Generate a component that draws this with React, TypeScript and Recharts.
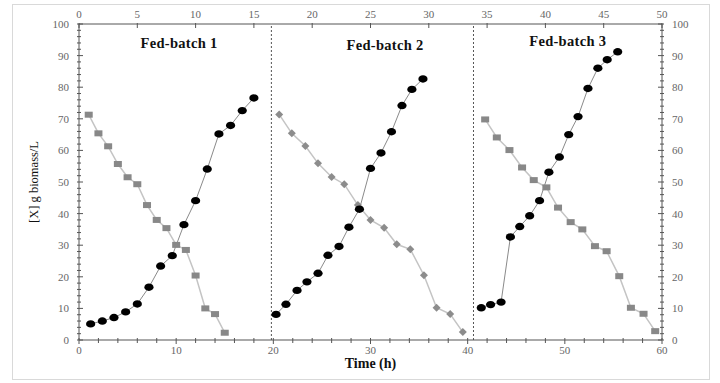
import React from 'react';
import {
  ScatterChart,
  Scatter,
  XAxis,
  YAxis,
  ReferenceLine,
  ReferenceDot,
} from 'recharts';

// Biomass (black circles) – plotted on the top time axis (0-50)
const biomassTime1 = [1, 2, 3, 4, 5, 6, 7, 8, 9, 10, 11, 12, 13, 14, 15];
const biomass1 = [5.1, 6.0, 7.1, 8.9, 11.4, 16.7, 23.4, 26.7, 36.5, 44.1, 54.1, 65.2, 67.9, 72.6, 76.6];
const biomassTime2 = [16.9, 17.75, 18.7, 19.55, 20.5, 21.35, 22.3, 23.15, 24.05, 25.0, 25.9, 26.8, 27.7, 28.55, 29.5];
const biomass2 = [8.1, 11.3, 15.7, 18.4, 21.1, 26.8, 29.6, 35.7, 41.4, 54.3, 59.2, 65.9, 74.2, 79.3, 82.6];
const biomassTime3 = [34.5, 35.3, 36.2, 37.0, 37.8, 38.65, 39.5, 40.3, 41.2, 42.0, 42.8, 43.65, 44.5, 45.3, 46.2];
const biomass3 = [10.2, 11.2, 12.0, 32.6, 35.9, 39.3, 44.1, 53.1, 57.9, 65.0, 70.7, 79.6, 86.0, 88.7, 91.2];

// Substrate (grey markers) – plotted on the bottom time axis (0-60)
const substrateTime1 = [1, 2, 3, 4, 5, 6, 7, 8, 9, 10, 11, 12, 13, 14, 15];
const substrate1 = [71.3, 65.4, 61.3, 55.7, 51.5, 49.3, 42.7, 38.0, 35.4, 30.1, 28.5, 20.4, 10.0, 8.2, 2.3];
const substrateTime2 = [20.6, 21.9, 23.3, 24.6, 26.0, 27.3, 28.7, 30.0, 31.4, 32.7, 34.1, 35.5, 36.8, 38.2, 39.5];
const substrate2 = [71.4, 65.4, 61.4, 55.9, 51.6, 49.3, 42.7, 38.0, 35.5, 30.3, 28.7, 20.5, 10.2, 8.2, 2.5];
const substrateTime3 = [41.8, 43.0, 44.3, 45.6, 46.8, 48.1, 49.3, 50.6, 51.8, 53.1, 54.3, 55.6, 56.8, 58.1, 59.3];
const substrate3 = [69.8, 64.1, 60.1, 54.6, 50.6, 48.3, 41.9, 37.3, 35.0, 29.7, 28.1, 20.2, 10.2, 8.3, 2.8];

// Batch separators and titles (bottom-axis time)
const batchDividers = [19.8, 40.6];
const batchTitles = ['Fed-batch 1', 'Fed-batch 2', 'Fed-batch 3'];
const batchTitleX = [10.3, 31.5, 50.3];
const batchTitleY = [94, 93.5, 94.6];

// Ticks
const yTicks = Array.from({ length: 51 }, (_, i) => i * 2);
const bottomTicks = Array.from({ length: 31 }, (_, i) => i * 2);
const topTicks = [0, 5, 10, 15, 20, 25, 30, 35, 40, 45, 50];

const zip = (xs: number[], ys: number[]) => xs.map((x, i) => ({ x, y: ys[i] }));

const FONT = '"Liberation Serif", "DejaVu Serif", serif';
const AXIS = '#555';
const LABEL = '#666';

const LeftTick = (p: any) => {
  const v = p.payload.value;
  const major = v % 10 === 0;
  return (
    <g>
      <line x1={p.x - 2} x2={p.x + (major ? 4 : 2)} y1={p.y} y2={p.y} stroke={AXIS} strokeWidth={1} />
      {major && (
        <text x={p.x - 10} y={p.y + 4} textAnchor="end" fontSize={11} fill={LABEL} fontFamily={FONT}>
          {v}
        </text>
      )}
    </g>
  );
};

const RightTick = (p: any) => {
  const v = p.payload.value;
  const major = v % 10 === 0;
  return (
    <g>
      <line x1={p.x - (major ? 4 : 2)} x2={p.x + 2} y1={p.y} y2={p.y} stroke={AXIS} strokeWidth={1} />
      {major && (
        <text x={p.x + 10} y={p.y + 4} textAnchor="start" fontSize={11} fill={LABEL} fontFamily={FONT}>
          {v}
        </text>
      )}
    </g>
  );
};

const BottomTick = (p: any) => {
  const v = p.payload.value;
  const major = v % 10 === 0;
  return (
    <g>
      <line x1={p.x} x2={p.x} y1={p.y - 2} y2={p.y + (major ? 4 : 3)} stroke={AXIS} strokeWidth={1} />
      {major && (
        <text x={p.x} y={p.y + 14} textAnchor="middle" fontSize={11} fill={LABEL} fontFamily={FONT}>
          {v}
        </text>
      )}
    </g>
  );
};

const TopTick = (p: any) => {
  const v = p.payload.value;
  return (
    <g>
      <line x1={p.x} x2={p.x} y1={p.y - 1} y2={p.y + 4} stroke={AXIS} strokeWidth={1} />
      <text x={p.x} y={p.y - 6} textAnchor="middle" fontSize={11} fill={LABEL} fontFamily={FONT}>
        {v}
      </text>
    </g>
  );
};

const Circle = (p: any) =>
  p.cx == null ? null : <ellipse cx={p.cx} cy={p.cy} rx={4.6} ry={3.7} fill="#000" />;
const Square = (p: any) =>
  p.cx == null ? null : <rect x={p.cx - 4} y={p.cy - 3} width={8} height={6} fill="#888" />;
const Diamond = (p: any) =>
  p.cx == null ? null : (
    <path d={`M${p.cx},${p.cy - 4}L${p.cx + 4},${p.cy}L${p.cx},${p.cy + 4}L${p.cx - 4},${p.cy}Z`} fill="#8c8c8c" />
  );

export default function App() {
  const biomassSets = [zip(biomassTime1, biomass1), zip(biomassTime2, biomass2), zip(biomassTime3, biomass3)];
  const substrateSets = [
    zip(substrateTime1, substrate1),
    zip(substrateTime2, substrate2),
    zip(substrateTime3, substrate3),
  ];
  const substrateShapes = [Square, Diamond, Square];

  return (
    <div style={{ position: 'absolute', left: 0, top: 0, width: 720, height: 383, background: '#fff' }}>
      <div
        style={{
          position: 'absolute',
          left: 12,
          top: 4,
          width: 698,
          height: 376,
          border: '1px solid #d9d9d9',
          boxSizing: 'border-box',
        }}
      />
      <ScatterChart width={720} height={383} margin={{ top: 0, right: 0, bottom: 0, left: 0 }} style={{ position: 'absolute', left: 0, top: 0 }}>
        <XAxis
          xAxisId="bottom"
          type="number"
          dataKey="x"
          orientation="bottom"
          domain={[0, 60]}
          ticks={bottomTicks}
          interval={0}
          height={43}
          tickSize={0}
          tickMargin={0}
          tickLine={false}
          stroke={AXIS}
          tick={BottomTick}
          allowDataOverflow
          label={{
            value: 'Time (h)',
            position: 'insideBottom',
            offset: 15,
            fill: '#111',
            fontSize: 14,
            fontWeight: 'bold',
            fontFamily: FONT,
          }}
        />
        <XAxis
          xAxisId="top"
          type="number"
          dataKey="x"
          orientation="top"
          domain={[0, 50]}
          ticks={topTicks}
          interval={0}
          height={24}
          tickSize={0}
          tickMargin={0}
          tickLine={false}
          stroke={AXIS}
          tick={TopTick}
          allowDataOverflow
        />
        <YAxis
          yAxisId="left"
          type="number"
          dataKey="y"
          orientation="left"
          domain={[0, 100]}
          ticks={yTicks}
          interval={0}
          width={79}
          tickSize={0}
          tickMargin={0}
          tickLine={false}
          stroke={AXIS}
          tick={LeftTick}
          allowDataOverflow
          label={{
            value: '[X] g biomass/L',
            angle: -90,
            position: 'insideLeft',
            offset: 34,
            fill: '#111',
            fontSize: 12.5,
            fontFamily: FONT,
            style: { textAnchor: 'middle' },
          }}
        />
        <YAxis
          yAxisId="right"
          type="number"
          dataKey="y"
          orientation="right"
          domain={[0, 100]}
          ticks={yTicks}
          interval={0}
          width={58}
          tickSize={0}
          tickMargin={0}
          tickLine={false}
          stroke={AXIS}
          tick={RightTick}
          allowDataOverflow
        />

        {batchDividers.map((d) => (
          <ReferenceLine
            key={d}
            x={d}
            xAxisId="bottom"
            yAxisId="right"
            stroke="#555"
            strokeDasharray="2 2"
            strokeWidth={1}
          />
        ))}

        {substrateSets.map((set, i) => (
          <Scatter
            key={'s' + i}
            data={set}
            xAxisId="bottom"
            yAxisId="right"
            line={{ stroke: '#c4c4c4', strokeWidth: 1.5 }}
            lineType="joint"
            shape={substrateShapes[i]}
            isAnimationActive={false}
          />
        ))}
        {biomassSets.map((set, i) => (
          <Scatter
            key={'b' + i}
            data={set}
            xAxisId="top"
            yAxisId="left"
            line={{ stroke: '#8a8a8a', strokeWidth: 1 }}
            lineType="joint"
            shape={Circle}
            isAnimationActive={false}
          />
        ))}

        {batchTitles.map((t, i) => (
          <ReferenceDot
            key={t}
            x={batchTitleX[i]}
            y={batchTitleY[i]}
            xAxisId="bottom"
            yAxisId="right"
            r={0}
            fill="none"
            stroke="none"
            label={{
              value: t,
              position: 'center',
              fill: '#111',
              fontSize: 14.5,
              fontWeight: 'bold',
              fontFamily: FONT,
              letterSpacing: 0.3,
            }}
          />
        ))}
      </ScatterChart>
    </div>
  );
}
